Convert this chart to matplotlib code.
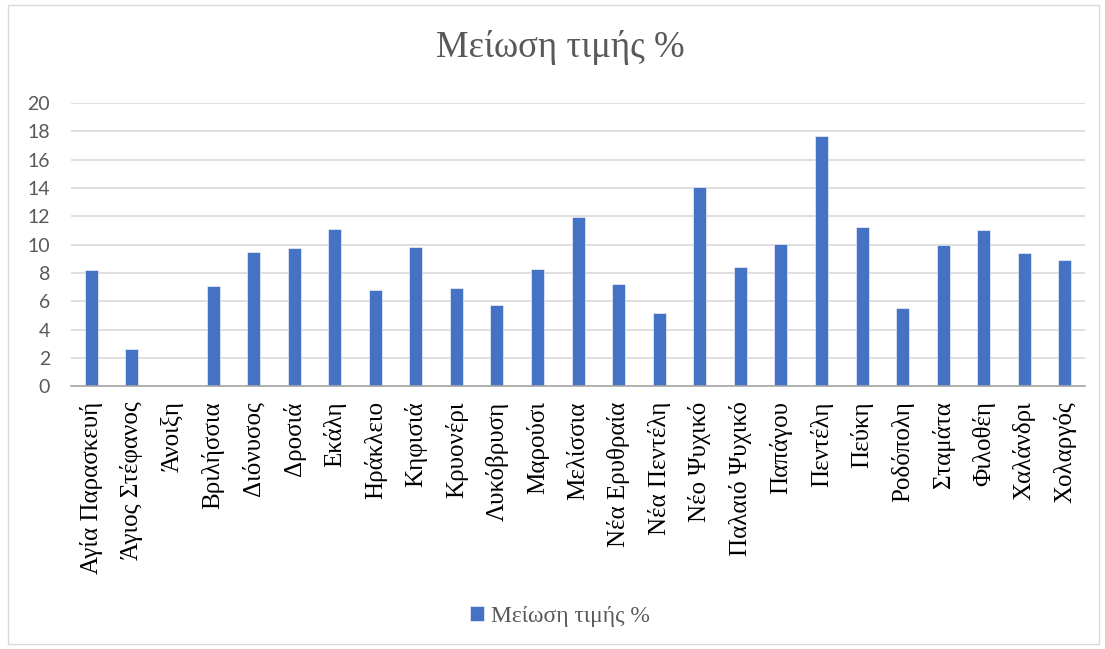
import matplotlib.pyplot as plt
import matplotlib.patches as mpatches
import numpy as np

# Data
areas = ['Αγία Παρασκευή', 'Άγιος Στέφανος', 'Άνοιξη', 'Βριλήσσια', 'Διόνυσος',
         'Δροσιά', 'Εκάλη', 'Ηράκλειο', 'Κηφισιά', 'Κρυονέρι', 'Λυκόβρυση',
         'Μαρούσι', 'Μελίσσια', 'Νέα Ερυθραία', 'Νέα Πεντέλη', 'Νέο Ψυχικό',
         'Παλαιό Ψυχικό', 'Παπάγου', 'Πεντέλη', 'Πεύκη', 'Ροδόπολη', 'Σταμάτα',
         'Φιλοθέη', 'Χαλάνδρι', 'Χολαργός']
price_drop = [8.18, 2.62, 0, 7.10, 9.46, 9.79, 11.11, 6.82, 9.83, 6.91, 5.71,
              8.28, 11.93, 7.24, 5.19, 14.06, 8.42, 10.02, 17.71, 11.25, 5.54,
              9.98, 11.01, 9.39, 8.89]
series_name = 'Μείωση τιμής %'
y_ticks = [0, 2, 4, 6, 8, 10, 12, 14, 16, 18, 20]

blue = '#4472C4'
text_gray = '#595959'

fig = plt.figure(figsize=(11.05, 6.49), dpi=100)
ax = fig.add_axes([0.0643, 0.405, 0.9177, 0.436])

x = np.arange(len(areas))
ax.bar(x, price_drop, width=0.32, color=blue, edgecolor='#ffffff', linewidth=0.4,
       label=series_name, zorder=3)

ax.set_xlim(-0.5, len(areas) - 0.5)
ax.set_ylim(0, 20)
ax.set_yticks(y_ticks)
ax.set_yticklabels([str(t) for t in y_ticks], fontsize=14, color=text_gray, family='Lato')
ax.set_xticks(x)
ax.set_xticklabels(areas, rotation=90, fontsize=18, color='#000000', family='Liberation Serif')
ax.tick_params(axis='both', length=0)
ax.tick_params(axis='y', pad=15)
ax.tick_params(axis='x', pad=11)

ax.grid(axis='y', color='#d9d9d9', linewidth=1.2, zorder=0)
for side in ['top', 'right', 'left']:
    ax.spines[side].set_visible(False)
ax.spines['bottom'].set_color('#a6a6a6')
ax.spines['bottom'].set_linewidth(1.2)
ax.spines['bottom'].set_zorder(4)

fig.text(0.507, 0.927, series_name, ha='center', va='center', fontsize=26.5,
         color=text_gray, family='Liberation Serif')

leg = fig.legend(loc='center', bbox_to_anchor=(0.507, 0.05), frameon=False,
                 prop={'family': 'Liberation Serif', 'size': 17},
                 handlelength=0.6, handleheight=0.6, handletextpad=0.3)
for t in leg.get_texts():
    t.set_color(text_gray)

# light border around the chart
fig.patches.append(mpatches.Rectangle((0.007, 0.008), 0.988, 0.985, transform=fig.transFigure,
                                      fill=False, edgecolor='#d9d9d9', linewidth=1))

fig.savefig('out.png', dpi=100)
